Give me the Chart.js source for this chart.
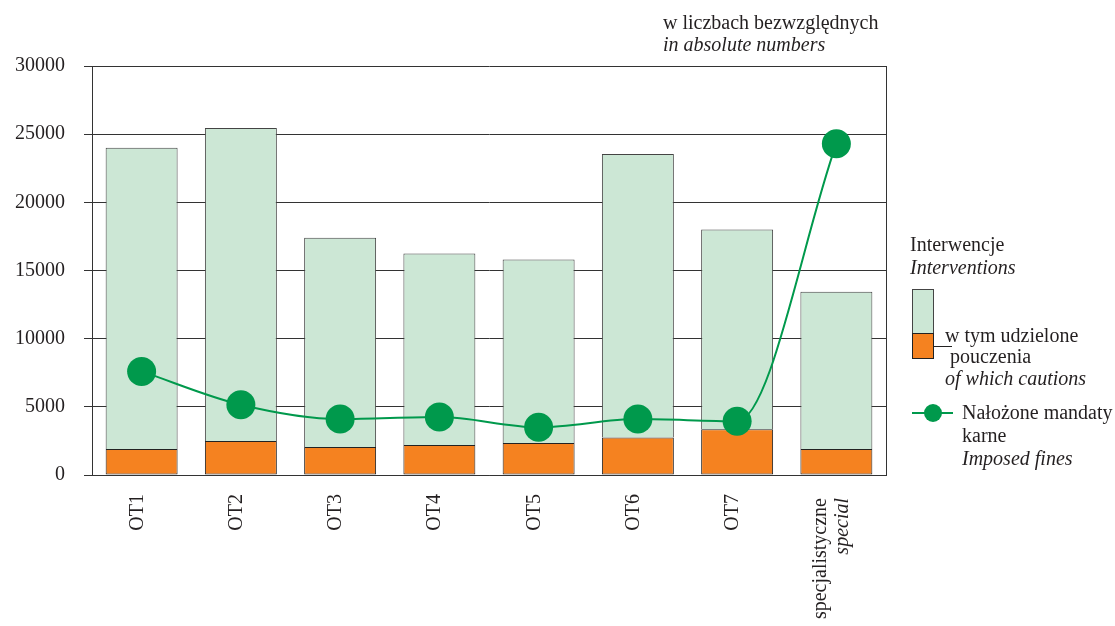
<!DOCTYPE html>
<html lang="pl">
<head>
<meta charset="utf-8">
<title>Interwencje - w liczbach bezwzględnych</title>
<script src="https://cdn.jsdelivr.net/npm/chart.js@4.4.1/dist/chart.umd.min.js"></script>
<style>
  html, body { margin: 0; padding: 0; background: #fff; }
  #wrap { width: 1115px; height: 626px; position: relative; }
</style>
</head>
<body>
<div id="wrap"><canvas id="otChart"></canvas></div>
<script>
// ===== DATA =====
const categories    = ['OT1', 'OT2', 'OT3', 'OT4', 'OT5', 'OT6', 'OT7', 'specjalistyczne'];
const categoriesEn  = ['', '', '', '', '', '', '', 'special'];
const interventions = [24000, 25450, 17400, 16250, 15800, 23550, 18000, 13450];
const cautions      = [1900, 2500, 2050, 2200, 2350, 2750, 3350, 1900];
const fines         = [7600, 5150, 4100, 4250, 3500, 4100, 3950, 24300];
const yTicks        = [0, 5000, 10000, 15000, 20000, 25000, 30000];

const SERIF   = '"Liberation Serif", "Times New Roman", serif';
const INK     = '#231F20';
const GRID    = '#333333';
const C_GREEN = '#CCE7D5';
const C_ORNG  = '#F58220';
const C_LINE  = '#00994C';
const C_EDGE  = '#444444';

// green part of each bar = interventions minus cautions
const restOfInterventions = interventions.map((v, i) => v - cautions[i]);

// ===== DECORATIONS: frame, axis labels, header, legend =====
const decorPlugin = {
  id: 'decor',
  beforeDatasetsDraw(chart) {
    const { ctx, chartArea } = chart;
    ctx.save();
    ctx.strokeStyle = GRID;
    ctx.lineWidth = 1;
    ctx.beginPath();
    ctx.moveTo(Math.round(chartArea.right) + 0.5, chartArea.top);
    ctx.lineTo(Math.round(chartArea.right) + 0.5, chartArea.bottom);
    ctx.stroke();
    ctx.restore();
  },
  afterDraw(chart) {
    const { ctx } = chart;
    const xs = chart.scales.x;
    ctx.save();
    ctx.fillStyle = INK;

    // category labels, rotated
    const topY = chart.chartArea.bottom + 19;
    categories.forEach((c, i) => {
      const cx = xs.getPixelForValue(i);
      const en = categoriesEn[i];
      ctx.save();
      ctx.textAlign = 'right';
      ctx.textBaseline = 'alphabetic';
      if (en) {
        ctx.translate(cx - 10, topY + 4);
        ctx.rotate(-Math.PI / 2);
        ctx.font = `20px ${SERIF}`;
        ctx.fillText(c, 0, 0);
        ctx.font = `italic 20px ${SERIF}`;
        ctx.fillText(en, 0, 22);
      } else {
        ctx.translate(cx + 1, topY);
        ctx.rotate(-Math.PI / 2);
        ctx.font = `20px ${SERIF}`;
        ctx.fillText(c, 0, 0);
      }
      ctx.restore();
    });

    // header
    ctx.textAlign = 'left';
    ctx.textBaseline = 'alphabetic';
    ctx.font = `20px ${SERIF}`;
    ctx.fillText('w liczbach bezwzględnych', 663, 29);
    ctx.font = `italic 20px ${SERIF}`;
    ctx.fillText('in absolute numbers', 663, 51);

    // legend - interventions
    ctx.font = `20px ${SERIF}`;
    ctx.fillText('Interwencje', 910, 251);
    ctx.font = `italic 20px ${SERIF}`;
    ctx.fillText('Interventions', 910, 274);

    ctx.strokeStyle = C_EDGE;
    ctx.lineWidth = 1;
    ctx.fillStyle = C_GREEN;
    ctx.fillRect(912.5, 289.5, 21, 44);
    ctx.strokeRect(912.5, 289.5, 21, 44);
    ctx.fillStyle = C_ORNG;
    ctx.fillRect(912.5, 333.5, 21, 25);
    ctx.strokeStyle = '#222';
    ctx.strokeRect(912.5, 333.5, 21, 25);
    ctx.beginPath();
    ctx.moveTo(933, 346.5);
    ctx.lineTo(952, 346.5);
    ctx.stroke();

    ctx.fillStyle = INK;
    ctx.font = `20px ${SERIF}`;
    ctx.fillText('w tym udzielone', 945, 342);
    ctx.fillText('pouczenia', 950, 363);
    ctx.font = `italic 20px ${SERIF}`;
    ctx.fillText('of which cautions', 945, 385);

    // legend - fines
    ctx.strokeStyle = C_LINE;
    ctx.lineWidth = 2;
    ctx.beginPath();
    ctx.moveTo(912, 413);
    ctx.lineTo(953, 413);
    ctx.stroke();
    ctx.fillStyle = C_LINE;
    ctx.beginPath();
    ctx.arc(933, 413, 9, 0, Math.PI * 2);
    ctx.fill();

    ctx.fillStyle = INK;
    ctx.font = `20px ${SERIF}`;
    ctx.fillText('Nałożone mandaty', 962, 419);
    ctx.fillText('karne', 962, 442);
    ctx.font = `italic 20px ${SERIF}`;
    ctx.fillText('Imposed fines', 962, 465);

    ctx.restore();
  }
};

// ===== CHART =====
const ctx = document.getElementById('otChart').getContext('2d');
new Chart(ctx, {
  type: 'bar',
  data: {
    labels: categories,
    datasets: [
      {
        label: 'Nałożone mandaty karne',
        type: 'line',
        data: fines,
        stack: 'fines',
        order: 0,
        borderColor: C_LINE,
        borderWidth: 2,
        cubicInterpolationMode: 'monotone',
        pointRadius: 14.5,
        pointHoverRadius: 14.5,
        pointBackgroundColor: C_LINE,
        pointBorderWidth: 0,
        fill: false,
      },
      {
        label: 'w tym udzielone pouczenia',
        data: cautions,
        stack: 'bars',
        order: 1,
        backgroundColor: C_ORNG,
        borderColor: '#222222',
        borderWidth: 1,
        borderSkipped: false,
        barPercentage: 0.725,
        categoryPercentage: 1,
      },
      {
        label: 'Interwencje',
        data: restOfInterventions,
        stack: 'bars',
        order: 2,
        backgroundColor: C_GREEN,
        borderColor: C_EDGE,
        borderWidth: 1,
        borderSkipped: 'start',
        barPercentage: 0.725,
        categoryPercentage: 1,
      }
    ]
  },
  options: {
    responsive: true,
    maintainAspectRatio: false,
    animation: false,
    events: [],
    layout: { padding: { top: 66, right: 229, left: 0, bottom: 0 } },
    plugins: {
      legend: { display: false },
      tooltip: { enabled: false }
    },
    scales: {
      x: {
        stacked: true,
        grid: { display: false },
        border: { display: true, color: GRID, width: 1 },
        ticks: { display: false },
        afterFit: scale => { scale.height = 151; }
      },
      y: {
        stacked: true,
        min: 0,
        max: 30000,
        afterBuildTicks: scale => { scale.ticks = yTicks.map(v => ({ value: v })); },
        afterFit: scale => { scale.width = 92; },
        grid: { color: GRID, lineWidth: 1, tickLength: 8 },
        border: { display: true, color: GRID, width: 1 },
        ticks: {
          color: INK,
          padding: 19,
          font: { family: SERIF, size: 20 },
          callback: v => String(v)
        }
      }
    }
  },
  plugins: [decorPlugin]
});
</script>
</body>
</html>
